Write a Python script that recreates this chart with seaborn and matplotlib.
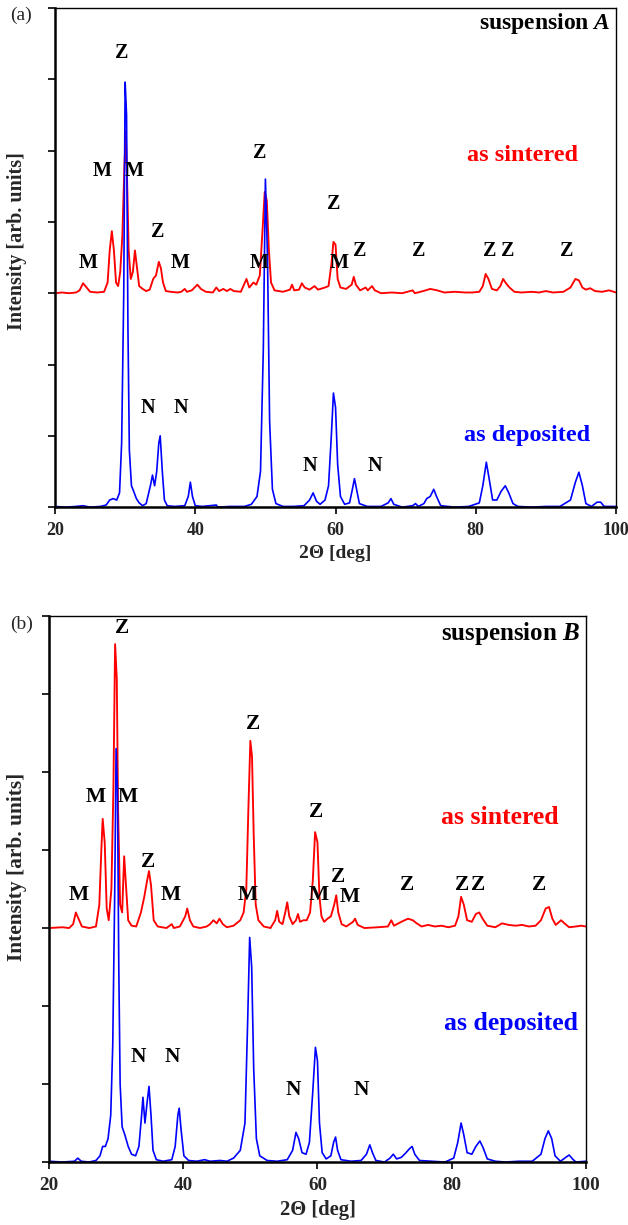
import numpy as np
import pandas as pd
import matplotlib
matplotlib.use("Agg")
import matplotlib.pyplot as plt
import seaborn as sns

# ---------------- data ----------------
# panel (a) as sintered (intensity above its own baseline)
a_sint_x = [20, 21, 22, 23, 23.5, 24.0, 24.5, 25, 26, 27, 27.5, 27.8, 28.1, 28.4, 28.7, 29.0, 29.3, 29.6, 29.9, 30.1, 30.3, 30.5, 30.8, 31.1, 31.4, 31.7, 32.0, 32.5, 33.0, 33.5, 34.0, 34.4, 34.8, 35.1, 35.4, 35.8, 36.5, 37.5, 38.0, 38.5, 38.8, 39.5, 40.3, 40.8, 41.5, 42.5, 43.0, 43.4, 44.0, 44.5, 45.0, 45.5, 46.5, 47.3, 47.7, 48.3, 48.7, 49.2, 49.6, 49.9, 50.2, 50.5, 50.8, 51.3, 52.5, 53.5, 53.8, 54.1, 54.8, 55.2, 55.6, 56.3, 57.0, 57.5, 58.5, 59.0, 59.4, 59.7, 60.0, 60.3, 60.7, 61.5, 62.3, 62.6, 62.9, 63.5, 64.3, 64.6, 65.2, 65.6, 66.5, 68.0, 69.5, 71.0, 71.3, 72.5, 73.5, 74.5, 75.5, 77, 78.5, 79.5, 80.5, 81.0, 81.4, 81.8, 82.3, 83.0, 83.5, 83.9, 84.3, 84.8, 85.5, 86.5, 88, 89, 90, 91, 92.5, 93.5, 94.2, 94.7, 95.2, 95.7, 96.3, 97, 98, 99, 100]
a_sint_y = [0.0, 0.01, 0.0, 0.01, 0.04, 0.14, 0.08, 0.02, 0.01, 0.02, 0.15, 0.6, 0.87, 0.6, 0.15, 0.1, 0.3, 0.8, 1.8, 2.27, 1.5, 0.6, 0.2, 0.3, 0.6, 0.35, 0.1, 0.06, 0.03, 0.05, 0.2, 0.25, 0.44, 0.35, 0.15, 0.03, 0.02, 0.01, 0.02, 0.06, 0.02, 0.04, 0.12, 0.06, 0.02, 0.01, 0.08, 0.03, 0.06, 0.03, 0.06, 0.03, 0.02, 0.2, 0.08, 0.15, 0.12, 0.25, 0.9, 1.42, 1.3, 0.6, 0.15, 0.04, 0.02, 0.05, 0.12, 0.04, 0.05, 0.14, 0.08, 0.05, 0.1, 0.05, 0.08, 0.1, 0.4, 0.72, 0.68, 0.2, 0.08, 0.06, 0.12, 0.23, 0.12, 0.04, 0.08, 0.04, 0.1, 0.04, 0.0, 0.01, 0.0, 0.04, 0.0, 0.03, 0.06, 0.04, 0.01, 0.02, 0.01, 0.01, 0.02, 0.1, 0.27, 0.2, 0.06, 0.04, 0.1, 0.2, 0.14, 0.08, 0.02, 0.01, 0.02, 0.01, 0.03, 0.01, 0.02, 0.08, 0.2, 0.18, 0.08, 0.05, 0.07, 0.03, 0.02, 0.04, 0.01]

# panel (a) as deposited
a_dep_x = [20, 21.5, 23, 24, 25, 26.5, 27.3, 27.8, 28.3, 28.8, 29.2, 29.5, 29.8, 30.0, 30.2, 30.4, 30.6, 30.9, 31.3, 31.6, 32.0, 32.5, 33.0, 33.6, 33.9, 34.2, 34.5, 34.8, 35.0, 35.3, 35.6, 36.0, 37.0, 38.5, 39.0, 39.3, 39.6, 40.0, 41, 43, 43.2, 45, 47, 48.0, 48.8, 49.3, 49.7, 50.0, 50.3, 50.6, 51.0, 51.5, 52.5, 54, 55.5, 56.3, 56.8, 57.3, 57.8, 58.5, 59.0, 59.4, 59.7, 60.0, 60.3, 60.7, 61.3, 62.0, 62.4, 62.7, 63.0, 63.4, 64.5, 66.5, 67.5, 67.9, 68.3, 69.5, 71.0, 71.4, 71.8, 72.6, 73.0, 73.5, 74.0, 74.4, 75.0, 77, 79, 80.5, 81.0, 81.5, 81.9, 82.4, 83.0, 83.6, 84.2, 84.7, 85.3, 86, 88, 90, 92, 93.5, 94.2, 94.7, 95.2, 95.7, 96.5, 97.3, 97.8, 98.3, 100]
a_dep_y = [0.01, 0.0, 0.01, 0.02, 0.0, 0.01, 0.03, 0.1, 0.12, 0.1, 0.2, 0.9, 3.0, 5.96, 5.5, 2.5, 0.8, 0.3, 0.2, 0.12, 0.06, 0.02, 0.05, 0.3, 0.45, 0.3, 0.5, 0.9, 1.0, 0.5, 0.1, 0.02, 0.01, 0.02, 0.15, 0.35, 0.15, 0.02, 0.01, 0.03, 0.0, 0.01, 0.01, 0.04, 0.15, 0.5, 2.2, 4.6, 3.5, 1.2, 0.25, 0.05, 0.01, 0.01, 0.02, 0.1, 0.2, 0.08, 0.04, 0.1, 0.3, 1.0, 1.6, 1.4, 0.6, 0.15, 0.04, 0.06, 0.25, 0.4, 0.25, 0.05, 0.01, 0.01, 0.06, 0.12, 0.04, 0.0, 0.02, 0.05, 0.01, 0.05, 0.12, 0.15, 0.25, 0.15, 0.02, 0.0, 0.01, 0.06, 0.3, 0.63, 0.4, 0.1, 0.1, 0.22, 0.3, 0.2, 0.05, 0.01, 0.0, 0.01, 0.01, 0.1, 0.35, 0.49, 0.3, 0.05, 0.01, 0.07, 0.07, 0.01, 0.01]

# panel (b) as sintered (intensity above its own baseline)
b_sint_x = [20, 22, 23, 23.6, 24.0, 24.4, 24.9, 26, 27.0, 27.5, 27.8, 28.0, 28.3, 28.6, 28.9, 29.3, 29.6, 29.85, 30.1, 30.3, 30.6, 30.9, 31.2, 31.5, 31.8, 32.3, 33, 33.7, 34.2, 34.6, 34.9, 35.2, 35.6, 36.2, 37.5, 38.3, 38.6, 39.5, 40.3, 40.6, 41.0, 41.5, 42.5, 43.5, 44.0, 44.5, 45.0, 45.4, 45.9, 46.5, 47.5, 48.5, 49.0, 49.4, 49.7, 50.0, 50.25, 50.5, 50.8, 51.2, 52.0, 53, 53.7, 54.0, 54.3, 54.8, 55.2, 55.5, 55.8, 56.3, 56.8, 57.1, 57.4, 57.9, 58.4, 58.9, 59.3, 59.65, 60.0, 60.3, 60.6, 61.0, 61.5, 62.0, 62.5, 62.8, 63.1, 63.6, 64.3, 65.3, 65.6, 66.0, 67, 69, 70.5, 71.0, 71.4, 72.5, 73.5, 74.2, 74.8, 75.5, 76.5, 77.5, 78.5, 79.5, 80.5, 81.0, 81.4, 81.8, 82.3, 83.0, 83.6, 84.1, 84.6, 85.3, 86.5, 87.5, 88.5, 89.5, 90.5, 91.5, 92.5, 93.3, 94.0, 94.5, 95.0, 95.5, 96.3, 96.8, 97.5, 98.5, 99.3, 100]
b_sint_y = [0.0, 0.01, 0.0, 0.05, 0.2, 0.12, 0.02, 0.0, 0.02, 0.3, 1.0, 1.4, 1.1, 0.25, 0.1, 0.5, 1.8, 3.64, 3.2, 1.5, 0.3, 0.2, 0.92, 0.5, 0.1, 0.03, 0.02, 0.2, 0.4, 0.6, 0.73, 0.55, 0.1, 0.02, 0.0, 0.05, 0.0, 0.02, 0.15, 0.25, 0.1, 0.02, 0.0, 0.02, 0.05, 0.1, 0.06, 0.12, 0.05, 0.01, 0.03, 0.1, 0.2, 0.5, 1.5, 2.4, 2.2, 1.2, 0.3, 0.1, 0.02, 0.0, 0.1, 0.22, 0.08, 0.05, 0.2, 0.33, 0.15, 0.05, 0.1, 0.18, 0.08, 0.1, 0.1, 0.2, 0.6, 1.23, 1.1, 0.4, 0.15, 0.08, 0.12, 0.15, 0.3, 0.42, 0.2, 0.05, 0.02, 0.08, 0.12, 0.04, 0.0, 0.01, 0.02, 0.1, 0.03, 0.08, 0.12, 0.1, 0.06, 0.02, 0.04, 0.02, 0.03, 0.01, 0.03, 0.15, 0.4, 0.3, 0.1, 0.08, 0.18, 0.2, 0.12, 0.03, 0.01, 0.06, 0.04, 0.03, 0.04, 0.02, 0.03, 0.1, 0.25, 0.27, 0.12, 0.04, 0.1, 0.06, 0.01, 0.02, 0.03, 0.02]

# panel (b) as deposited
b_dep_x = [20, 22, 23.8, 24.3, 24.8, 26, 27.0, 27.6, 28.0, 28.4, 28.8, 29.2, 29.5, 29.8, 30.0, 30.2, 30.4, 30.6, 30.9, 31.3, 31.8, 32.3, 32.9, 33.4, 33.8, 34.0, 34.3, 34.6, 34.9, 35.2, 35.5, 36.0, 37.0, 38.3, 38.8, 39.2, 39.4, 39.7, 40.1, 40.8, 42, 43.2, 44, 45.5, 46.5, 47.5, 48.5, 49.2, 49.6, 49.9, 50.2, 50.5, 50.9, 51.4, 52.5, 54, 55.5, 56.3, 56.8, 57.2, 57.7, 58.3, 58.8, 59.3, 59.7, 60.0, 60.3, 60.7, 61.3, 62.0, 62.4, 62.7, 63.0, 63.5, 65, 66.5, 67.3, 67.8, 68.2, 68.7, 70, 70.8, 71.3, 71.8, 72.5, 73.2, 73.7, 74.1, 74.5, 75.2, 77, 79, 80.3, 80.9, 81.4, 81.8, 82.3, 83.0, 83.6, 84.2, 84.7, 85.3, 86.5, 88, 90, 92, 93.3, 93.9, 94.4, 94.9, 95.4, 96.2, 97.0, 97.5, 98.0, 98.5, 100]
b_dep_y = [0.01, 0.0, 0.01, 0.05, 0.01, 0.0, 0.02, 0.08, 0.2, 0.2, 0.3, 0.6, 1.5, 3.5, 5.3, 4.8, 2.5, 1.0, 0.45, 0.35, 0.2, 0.1, 0.08, 0.2, 0.6, 0.83, 0.5, 0.75, 0.97, 0.6, 0.15, 0.03, 0.01, 0.03, 0.2, 0.6, 0.69, 0.4, 0.08, 0.02, 0.01, 0.03, 0.01, 0.02, 0.01, 0.05, 0.15, 0.5, 1.8, 2.88, 2.5, 1.2, 0.3, 0.08, 0.02, 0.01, 0.03, 0.15, 0.38, 0.3, 0.12, 0.1, 0.25, 0.9, 1.47, 1.3, 0.5, 0.12, 0.04, 0.08, 0.25, 0.32, 0.15, 0.03, 0.01, 0.02, 0.1, 0.22, 0.12, 0.02, 0.0, 0.05, 0.1, 0.04, 0.06, 0.12, 0.17, 0.2, 0.1, 0.02, 0.01, 0.0, 0.05, 0.25, 0.5, 0.35, 0.12, 0.1, 0.2, 0.27, 0.18, 0.04, 0.01, 0.0, 0.01, 0.01, 0.1, 0.3, 0.4, 0.3, 0.08, 0.01, 0.06, 0.09, 0.04, 0.0, 0.01]

sintered_offset = 3.0

# phase labels: (text, x, y)
a_labels = [("Z", 29.55, 6.37), ("M", 26.7, 4.72), ("M", 31.3, 4.72), ("Z", 34.7, 3.86),
            ("M", 24.7, 3.42), ("M", 37.8, 3.42), ("Z", 49.2, 4.96), ("M", 49.1, 3.42),
            ("Z", 59.8, 4.25), ("M", 60.5, 3.42), ("Z", 63.4, 3.59), ("Z", 71.9, 3.59),
            ("Z", 82.0, 3.59), ("Z", 84.6, 3.59), ("Z", 93.0, 3.59),
            ("N", 33.3, 1.39), ("N", 38.0, 1.39), ("N", 56.4, 0.58), ("N", 65.6, 0.58)]
b_labels = [("Z", 30.9, 6.85), ("M", 26.9, 4.68), ("M", 31.8, 4.68), ("Z", 34.75, 3.85),
            ("M", 24.5, 3.42), ("M", 38.2, 3.42), ("Z", 50.4, 5.62), ("M", 49.6, 3.42),
            ("Z", 59.8, 4.49), ("M", 60.2, 3.42), ("Z", 63.1, 3.66), ("M", 64.8, 3.40),
            ("Z", 73.3, 3.55), ("Z", 81.5, 3.55), ("Z", 83.9, 3.55), ("Z", 93.1, 3.55),
            ("N", 33.3, 1.35), ("N", 38.3, 1.35), ("N", 56.4, 0.92), ("N", 66.6, 0.92)]

x_ticks = [20, 40, 60, 80, 100]
y_ticks = [0, 1, 2, 3, 4, 5, 6, 7]

RED = "#ff0000"
BLUE = "#0000ff"

# ---------------- style ----------------
sns.set_theme(style="ticks")
plt.rcParams["font.family"] = ["Liberation Serif", "DejaVu Serif"]
plt.rcParams["font.weight"] = "bold"
plt.rcParams["mathtext.fontset"] = "custom"
plt.rcParams["mathtext.it"] = "Liberation Serif:italic:bold"
plt.rcParams["mathtext.rm"] = "Liberation Serif:bold"

fig = plt.figure(figsize=(6.28, 12.25), dpi=100)
ax_a = fig.add_axes([0.0876, 0.586, 0.8934, 0.4075])
ax_b = fig.add_axes([0.078, 0.0514, 0.855, 0.4457])


def draw_panel(ax, sx, sy, dx, dy, labels, susp, sint_pos, dep_pos, scale, ylab_xy):
    sint = pd.DataFrame({"x": sx, "y": np.array(sy) + sintered_offset})
    dep = pd.DataFrame({"x": dx, "y": dy})
    sns.lineplot(data=sint, x="x", y="y", ax=ax, color=RED, lw=1.35,
                 estimator=None, sort=False)
    sns.lineplot(data=dep, x="x", y="y", ax=ax, color=BLUE, lw=1.2,
                 estimator=None, sort=False)
    ax.set_xlim(20, 100)
    ax.set_ylim(0, 7)
    ax.set_xticks(x_ticks)
    ax.set_xticklabels([str(t) for t in x_ticks], fontsize=13 * scale, fontweight="bold")
    ax.set_yticks(y_ticks)
    ax.set_yticklabels([])
    ax.tick_params(axis="both", direction="out", length=5, width=1.2, color="black")
    ax.tick_params(axis="x", pad=6)
    for side in ["left", "bottom"]:
        ax.spines[side].set_linewidth(1.8)
    for side in ["top", "right"]:
        ax.spines[side].set_linewidth(1.0)
    for s in ax.spines.values():
        s.set_color("black")
    ax.set_xlabel("2\u0398 [deg]", fontsize=14 * scale, fontweight="bold", labelpad=4)
    ax.set_ylabel("Intensity [arb. units]", fontsize=14.5 * scale, fontweight="bold")
    ax.yaxis.set_label_coords(ylab_xy[0], ylab_xy[1])
    for t, x, y in labels:
        ax.text(x, y, t, ha="center", va="center", fontsize=14.5 * scale,
                fontweight="bold", color="black")
    ax.text(0.99, 0.968, "suspension $\\mathit{" + susp + "}$", transform=ax.transAxes,
            ha="right", va="center", fontsize=17 * scale, fontweight="bold", color="black")
    ax.text(sint_pos[0], sint_pos[1], "as sintered", ha="center", va="center",
            fontsize=17.5 * scale, fontweight="bold", color=RED)
    ax.text(dep_pos[0], dep_pos[1], "as deposited", ha="center", va="center",
            fontsize=17.5 * scale, fontweight="bold", color=BLUE)
    ax.grid(False)


draw_panel(ax_a, a_sint_x, a_sint_y, a_dep_x, a_dep_y, a_labels, "A",
           (86.6, 4.93), (87.3, 1.01), 1.0, (-0.05, 0.533))
draw_panel(ax_b, b_sint_x, b_sint_y, b_dep_x, b_dep_y, b_labels, "B",
           (87.2, 4.42), (88.8, 1.78), 1.06, (-0.041, 0.54))

fig.text(10 / 628, 1 - 15 / 1225, "(a)", fontsize=14, fontweight="normal",
         ha="left", va="center")
fig.text(10 / 628, 1 - 624 / 1225, "(b)", fontsize=14, fontweight="normal",
         ha="left", va="center")

fig.savefig("out.png", dpi=100)
